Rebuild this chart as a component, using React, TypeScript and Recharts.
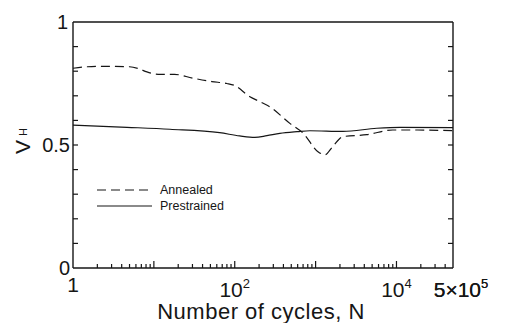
import React from 'react';
import { LineChart, Line, XAxis, YAxis, Legend, Label } from 'recharts';

// Annealed (dashed) and prestrained (solid) curves
const annealedN = [1, 1.5, 2.5, 5, 6.5, 8.2, 12, 18, 30, 52, 80, 98, 154, 205, 272, 480, 700, 1070, 1300, 1620, 2180, 4300, 9000, 17700, 50000];
const annealedV = [0.812, 0.818, 0.82, 0.818, 0.81, 0.797, 0.787, 0.787, 0.772, 0.758, 0.75, 0.743, 0.696, 0.676, 0.655, 0.588, 0.548, 0.473, 0.46, 0.493, 0.534, 0.542, 0.561, 0.561, 0.558];
const prestrainedN = [1, 4.65, 15.8, 65, 115, 177, 250, 361, 590, 850, 2180, 5700, 11000, 50000];
const prestrainedV = [0.581, 0.572, 0.564, 0.55, 0.537, 0.531, 0.538, 0.547, 0.554, 0.558, 0.555, 0.568, 0.572, 0.571];

const seriesNames = ['Annealed', 'Prestrained'];
const seriesDash = ['9 5', undefined];

// tick labels (value, base text, exponent)
const xLabelValues = [1, 100, 10000, 50000];
const xLabelBase = ['1', '10', '10', '5×10'];
const xLabelExp = ['', '2', '4', '5'];
const yTicks = [0, 0.1, 0.2, 0.3, 0.4, 0.5, 0.6, 0.7, 0.8, 0.9, 1];
const yLabelValues = [0, 0.5, 1];
const yLabelText = ['0', '0.5', '1'];

const X_MAX = 50000;
const FONT = '"Liberation Sans", Arial, Helvetica, sans-serif';
const INK = '#161616';

const xTicks: number[] = [];
for (let k = 0; k <= 4; k++) {
  for (let d = 1; d <= 9; d++) {
    const v = d * Math.pow(10, k);
    if (v <= X_MAX) xTicks.push(v);
  }
}
xTicks.push(X_MAX);

const annealedData = annealedN.map((n, i) => ({ n, v: annealedV[i] }));
const prestrainedData = prestrainedN.map((n, i) => ({ n, v: prestrainedV[i] }));

const isDecade = (v: number) => {
  const m = v / Math.pow(10, Math.floor(Math.log10(v) + 1e-9));
  return Math.abs(m - 1) < 1e-6;
};

const BottomTick = (props: any) => {
  const { x, y, payload } = props;
  const v = payload.value;
  const len = isDecade(v) ? 7 : 4;
  const i = xLabelValues.indexOf(v);
  return (
    <g>
      {v > 1 && v < X_MAX && <line x1={x} y1={y} x2={x} y2={y - len} stroke={INK} strokeWidth={1.2} />}
      {i >= 0 && (
        <text
          x={x + (v === X_MAX ? 8 : 0)}
          y={v === 1 ? y + 24 : y + 29}
          textAnchor="middle"
          fontSize={21}
          fontFamily={FONT}
          fill={INK}
        >
          {xLabelBase[i]}
          {xLabelExp[i] && (
            <tspan dy={-9} fontSize={13}>
              {xLabelExp[i]}
            </tspan>
          )}
        </text>
      )}
    </g>
  );
};

const TopTick = (props: any) => {
  const { x, y, payload } = props;
  const v = payload.value;
  if (v <= 1 || v >= X_MAX) return <g />;
  const len = isDecade(v) ? 7 : 4;
  return <line x1={x} y1={y} x2={x} y2={y + len} stroke={INK} strokeWidth={1.2} />;
};

const LeftTick = (props: any) => {
  const { x, y, payload } = props;
  const v = payload.value;
  const i = yLabelValues.findIndex((t) => Math.abs(t - v) < 1e-9);
  return (
    <g>
      {v > 0 && v < 1 && <line x1={x} y1={y} x2={x + 5} y2={y} stroke={INK} strokeWidth={1.2} />}
      {i >= 0 && (
        <text x={v === 1 ? x - 5 : x - 3} y={y + 7} textAnchor="end" fontSize={20} fontFamily={FONT} fill={INK}>
          {yLabelText[i]}
        </text>
      )}
    </g>
  );
};

const RightTick = (props: any) => {
  const { x, y, payload } = props;
  const v = payload.value;
  if (v <= 0 || v >= 1) return <g />;
  return <line x1={x} y1={y} x2={x - 5} y2={y} stroke={INK} strokeWidth={1.2} />;
};

const renderLegend = () => (
  <div style={{ fontFamily: FONT, fontSize: 12.5, color: INK }}>
    {seriesNames.map((name, i) => (
      <div key={name} style={{ display: 'flex', alignItems: 'center', height: 16 }}>
        <svg width={56} height={10} style={{ display: 'block' }}>
          <line x1={1} y1={5} x2={56} y2={5} stroke={INK} strokeWidth={1.1} strokeDasharray={seriesDash[i]} />
        </svg>
        <span style={{ marginLeft: 8, lineHeight: '16px' }}>{name}</span>
      </div>
    ))}
  </div>
);

export default function App() {
  return (
    <div style={{ position: 'absolute', left: 0, top: 0, background: '#fff' }}>
      <LineChart width={505} height={323} margin={{ top: 21, right: 51, bottom: 54, left: 72 }}>
        <XAxis
          xAxisId={0}
          dataKey="n"
          type="number"
          scale="log"
          domain={[1, X_MAX]}
          allowDataOverflow
          ticks={xTicks}
          interval={0}
          height={1}
          tickSize={0}
          tickMargin={0}
          tickLine={false}
          tick={<BottomTick />}
          axisLine={{ stroke: INK, strokeWidth: 1.4 }}
        >
          <Label
            content={() => (
              <text
                x={261}
                y={319}
                textAnchor="middle"
                fontSize={22}
                letterSpacing={0.5}
                fontFamily={FONT}
                fill={INK}
              >
                Number of cycles, N
              </text>
            )}
          />
        </XAxis>
        <XAxis
          xAxisId="top"
          orientation="top"
          type="number"
          scale="log"
          domain={[1, X_MAX]}
          allowDataOverflow
          ticks={xTicks}
          interval={0}
          height={1}
          tickSize={0}
          tickMargin={0}
          tickLine={false}
          tick={<TopTick />}
          axisLine={{ stroke: INK, strokeWidth: 1.4 }}
        />
        <YAxis
          yAxisId={0}
          type="number"
          domain={[0, 1]}
          allowDataOverflow
          ticks={yTicks}
          interval={0}
          width={1}
          tickSize={0}
          tickMargin={0}
          tickLine={false}
          tick={<LeftTick />}
          axisLine={{ stroke: INK, strokeWidth: 1.4 }}
        >
          <Label
            content={() => (
              <text
                x={30}
                y={154}
                transform="rotate(-90, 30, 154)"
                fontSize={21}
                fontFamily={FONT}
                fill={INK}
              >
                V
                <tspan dx={4} dy={-3} fontSize={11}>
                  H
                </tspan>
              </text>
            )}
          />
        </YAxis>
        <YAxis
          yAxisId="right"
          orientation="right"
          type="number"
          domain={[0, 1]}
          allowDataOverflow
          ticks={yTicks}
          interval={0}
          width={1}
          tickSize={0}
          tickMargin={0}
          tickLine={false}
          tick={<RightTick />}
          axisLine={{ stroke: INK, strokeWidth: 1.4 }}
        />
        <Legend
          layout="vertical"
          align="center"
          verticalAlign="middle"
          wrapperStyle={{ left: 96, top: 182, width: 160 }}
          content={renderLegend}
        />
        <Line
          data={annealedData}
          dataKey="v"
          name={seriesNames[0]}
          type="monotone"
          stroke={INK}
          strokeWidth={1.2}
          strokeDasharray={seriesDash[0]}
          dot={false}
          isAnimationActive={false}
        />
        <Line
          data={prestrainedData}
          dataKey="v"
          name={seriesNames[1]}
          type="monotone"
          stroke={INK}
          strokeWidth={1.2}
          dot={false}
          isAnimationActive={false}
        />
      </LineChart>
    </div>
  );
}
